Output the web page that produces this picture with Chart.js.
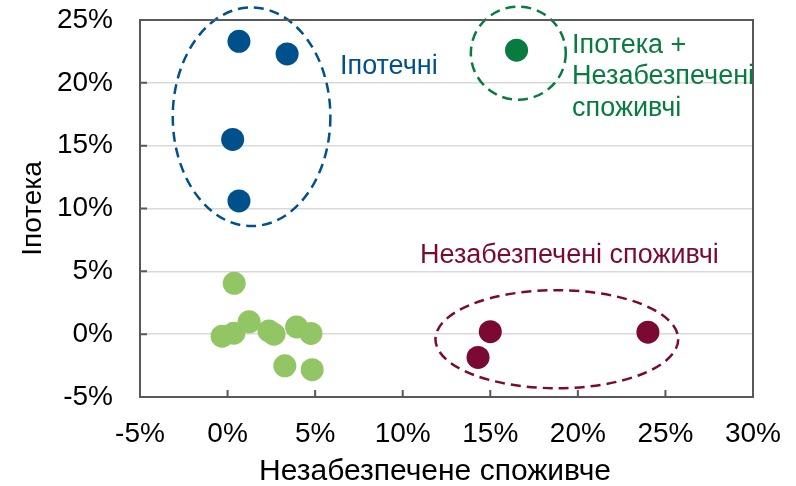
<!DOCTYPE html>
<html>
<head>
<meta charset="utf-8">
<script src="https://cdn.jsdelivr.net/npm/chart.js@4"></script>
<style>
  html, body { margin: 0; padding: 0; background: #fff; }
  #wrap { width: 796px; height: 486px; }
</style>
</head>
<body>
<div id="wrap"><canvas id="chart" width="796" height="486"></canvas></div>
<script>
// x = unsecured consumer, y = mortgage, both in %
const mortgageX = [0.65, 3.4, 0.29, 0.65];
const mortgageY = [23.3, 22.3, 15.5, 10.6];

const bothX = [16.5];
const bothY = [22.6];

const unsecuredX = [15.0, 14.3, 24.0];
const unsecuredY = [0.2, -1.85, 0.16];

const otherX = [-0.31, 0.36, 1.23, 2.36, 2.65, 3.94, 4.76, 3.27, 4.83, 0.38];
const otherY = [-0.16, 0.08, 0.98, 0.26, 0.0, 0.58, 0.06, -2.52, -2.83, 4.05];

const xTicks = [-5, 0, 5, 10, 15, 20, 25, 30];
const yTicks = [-5, 0, 5, 10, 15, 20, 25];

const xTitle = 'Незабезпечене споживче';
const yTitle = 'Іпотека';

const BLUE = '#00508c';
const GREEN = '#087b3f';
const MAROON = '#7a0a32';
const LIGHT = '#92c563';
const FONT = '"Liberation Sans", Arial, sans-serif';

const toPoints = (xs, ys) => xs.map((x, i) => ({ x, y: ys[i] }));

// dashed ellipses round each group, in axis units
const groupRings = [
  { cx: 1.37, cy: 17.3, rx: 4.5, ry: 8.7, color: BLUE },
  { cx: 16.6, cy: 22.36, rx: 2.71, ry: 3.7, color: GREEN },
  { cx: 18.8, cy: -0.4, rx: 6.93, ry: 3.9, color: MAROON }
];

// group captions, anchored at left edge / first line middle
const groupNotes = [
  { x: 6.42, y: 21.27, lines: ['Іпотечні'], color: BLUE },
  { x: 19.67, y: 23.0, lines: ['Іпотека +', 'Незабезпечені', 'споживчі'], color: GREEN },
  { x: 10.99, y: 6.27, lines: ['Незабезпечені споживчі'], color: MAROON }
];

const frame = {
  id: 'frame',
  afterDatasetsDraw(chart) {
    const { ctx, scales: { x, y } } = chart;
    ctx.save();
    ctx.lineWidth = 2.5;
    ctx.setLineDash([10, 6]);
    groupRings.forEach(r => {
      const px = x.getPixelForValue(r.cx);
      const py = y.getPixelForValue(r.cy);
      const rx = Math.abs(x.getPixelForValue(r.cx + r.rx) - px);
      const ry = Math.abs(y.getPixelForValue(r.cy + r.ry) - py);
      ctx.strokeStyle = r.color;
      ctx.beginPath();
      ctx.ellipse(px, py, rx, ry, 0, 0, Math.PI * 2);
      ctx.stroke();
    });
    ctx.restore();
  },
  afterDraw(chart) {
    const { ctx, chartArea: a, scales: { x, y } } = chart;
    ctx.save();
    // box round the plot
    ctx.strokeStyle = '#595959';
    ctx.lineWidth = 2;
    ctx.strokeRect(a.left, a.top, a.right - a.left, a.bottom - a.top);
    // inward tick marks
    ctx.beginPath();
    xTicks.forEach(v => {
      const px = x.getPixelForValue(v);
      ctx.moveTo(px, a.bottom);
      ctx.lineTo(px, a.bottom - 7);
    });
    yTicks.forEach(v => {
      const py = y.getPixelForValue(v);
      ctx.moveTo(a.left, py);
      ctx.lineTo(a.left + 7, py);
    });
    ctx.stroke();

    // x axis title, sits a little left of the plot centre
    ctx.fillStyle = '#000';
    ctx.font = '30px ' + FONT;
    ctx.textAlign = 'center';
    ctx.textBaseline = 'middle';
    ctx.fillText(xTitle, 435, 472);

    // captions
    ctx.font = '27px ' + FONT;
    ctx.textAlign = 'left';
    groupNotes.forEach(n => {
      ctx.fillStyle = n.color;
      const px = x.getPixelForValue(n.x);
      const py = y.getPixelForValue(n.y);
      n.lines.forEach((t, i) => ctx.fillText(t, px, py + i * 31.5));
    });
    ctx.restore();
  }
};

const pointStyle = color => ({
  backgroundColor: color,
  borderWidth: 0,
  pointRadius: 11.5,
  pointHoverRadius: 11.5
});

new Chart(document.getElementById('chart'), {
  type: 'scatter',
  data: {
    datasets: [
      { label: 'Інші', data: toPoints(otherX, otherY), ...pointStyle(LIGHT) },
      { label: 'Іпотечні', data: toPoints(mortgageX, mortgageY), ...pointStyle(BLUE) },
      { label: 'Іпотека + Незабезпечені споживчі', data: toPoints(bothX, bothY), ...pointStyle(GREEN) },
      { label: 'Незабезпечені споживчі', data: toPoints(unsecuredX, unsecuredY), ...pointStyle(MAROON) }
    ]
  },
  options: {
    responsive: false,
    animation: false,
    layout: { padding: { top: 20, right: 43, left: 0, bottom: 0 } },
    plugins: {
      legend: { display: false },
      tooltip: { enabled: false }
    },
    scales: {
      x: {
        type: 'linear',
        min: -5,
        max: 30,
        afterBuildTicks: s => { s.ticks = xTicks.map(v => ({ value: v })); },
        // fixed height, and don't let the end labels push the plot in
        afterFit: s => { s.height = 89; s.paddingLeft = 0; s.paddingRight = 0; },
        ticks: {
          color: '#000',
          font: { family: FONT, size: 28 },
          padding: 20,
          maxRotation: 0,
          callback: v => v + '%'
        },
        grid: { display: false, drawTicks: false },
        border: { display: false }
      },
      y: {
        type: 'linear',
        min: -5,
        max: 25,
        afterBuildTicks: s => { s.ticks = yTicks.map(v => ({ value: v })); },
        afterFit: s => { s.width = 140; s.paddingTop = 0; s.paddingBottom = 0; },
        ticks: {
          color: '#000',
          font: { family: FONT, size: 28 },
          padding: 27,
          callback: v => v + '%'
        },
        grid: { color: '#d9d9d9', lineWidth: 1.5, drawTicks: false },
        border: { display: false },
        title: {
          display: true,
          text: yTitle,
          color: '#000',
          font: { family: FONT, size: 28 },
          padding: { top: 16, bottom: 0 }
        }
      }
    }
  },
  plugins: [frame]
});
</script>
</body>
</html>
